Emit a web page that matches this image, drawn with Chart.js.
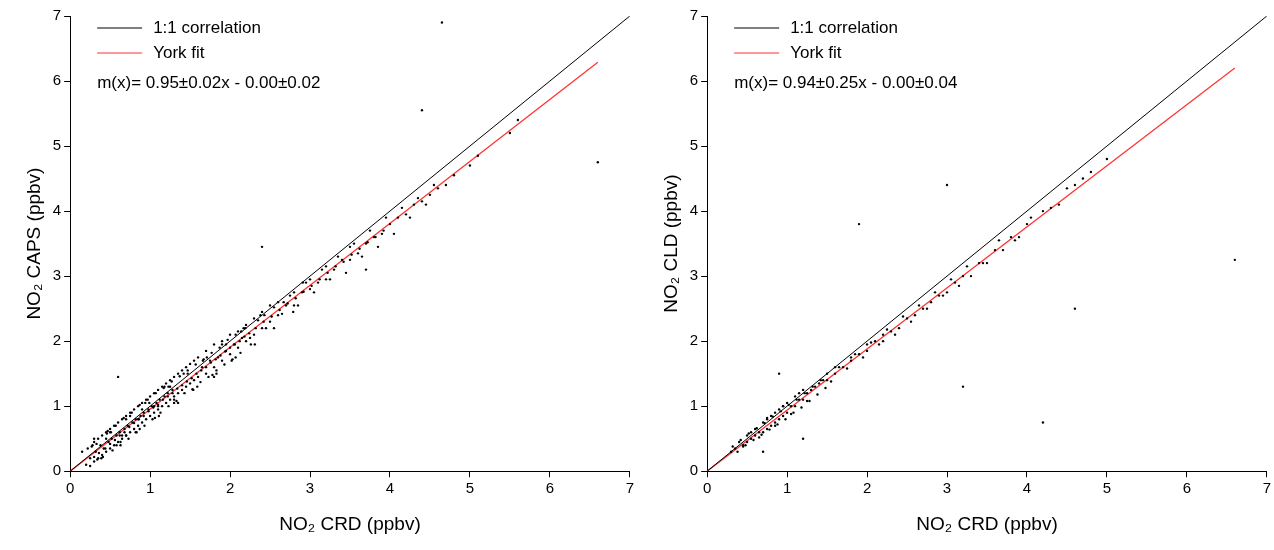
<!DOCTYPE html>
<html><head><meta charset="utf-8">
<script src="https://cdn.jsdelivr.net/npm/chart.js@4/dist/chart.umd.min.js"></script>
<style>body{margin:0;background:#fff}#w{display:flex;width:1274px;height:550px}.c{width:637px;height:550px;position:relative}</style>
</head><body><div id="w"><div class="c"><canvas id="a"></canvas></div><div class="c"><canvas id="b"></canvas></div></div>
<script>
const ticks=[0,1,2,3,4,5,6,7];
const capsX=[0.15,0.2,0.22,0.25,0.28,0.3,0.3,0.32,0.35,0.35,0.38,0.4,0.4,0.42,0.45,0.45,0.48,0.5,0.5,0.52,0.55,0.55,0.58,0.6,0.6,0.62,0.65,0.65,0.68,0.7,0.7,0.72,0.75,0.75,0.78,0.8,0.8,0.82,0.85,0.85,0.88,0.9,0.9,0.92,0.95,0.95,0.98,1.0,1.0,1.02,1.05,1.05,1.08,1.1,1.1,1.12,1.15,1.15,1.18,1.2,1.2,1.22,1.25,1.25,1.28,1.3,1.3,1.35,1.35,1.4,1.4,1.45,1.45,1.5,1.5,1.55,1.55,1.6,1.6,1.65,1.7,1.7,1.75,1.8,1.8,1.85,1.9,1.9,1.95,2.0,2.0,2.05,2.1,2.1,2.15,2.2,2.2,2.3,2.3,2.4,2.4,2.5,2.5,2.6,2.6,2.7,2.8,2.8,2.9,3.0,3.0,3.1,3.2,3.2,3.3,3.4,3.5,3.5,3.6,3.7,3.8,3.9,4.0,4.1,4.2,4.3,4.4,4.5,4.6,4.7,4.8,5.0,5.1,4.65,5.5,5.6,6.6,2.4,3.7,1.8,0.6,4.4,0.3,0.5,0.7,0.9,1.1,1.3,0.45,0.65,0.85,1.05,1.25,
0.25,0.33,0.41,0.47,0.53,0.57,0.63,0.67,0.73,0.77,0.83,0.87,0.93,0.97,1.03,1.07,1.13,1.17,1.23,1.27,1.33,1.37,1.43,1.47,1.53,1.57,1.63,1.67,1.73,1.77,1.83,1.87,1.93,1.97,2.03,2.07,2.13,2.17,2.25,2.35,2.45,2.55,2.65,2.75,2.85,2.95,3.05,3.15,3.25,3.35,3.45,3.55,3.65,3.75,3.85,3.95,4.05,4.15,4.25,4.35,4.45,4.55,
0.3,0.36,0.44,0.5,0.56,0.62,0.68,0.74,0.8,0.86,0.92,0.98,1.04,1.1,1.16,1.22,1.28,1.34,1.4,1.46,1.52,1.58,1.64,1.7,1.76,1.82,1.88,1.94,2.0,2.06,2.12,2.18,2.24,2.32,2.42,2.52,2.62,2.72,2.82,2.92,3.02,3.12,3.22,3.32,3.42,3.52,3.62,3.72,3.82,3.92,
0.27,0.39,0.51,0.63,0.75,0.87,0.99,1.11,1.23,1.35,1.47,1.59,1.71,1.83,1.95,2.07,2.19,2.31,2.43,2.55,2.67,2.79,2.91,0.34,0.46,0.58,0.7,0.82,0.94,1.06,1.18,1.3,1.42,1.54,1.66,1.78,1.9,2.02,2.14,2.26,2.38];
const capsY=[0.3,0.1,0.35,0.2,0.4,0.15,0.45,0.3,0.2,0.5,0.4,0.25,0.55,0.35,0.3,0.6,0.45,0.35,0.65,0.5,0.4,0.7,0.55,0.45,0.75,0.6,0.5,0.8,0.65,0.55,0.85,0.7,0.6,0.9,0.75,0.65,0.95,0.8,0.7,1.0,0.85,0.75,1.05,0.9,0.8,1.1,0.95,0.85,1.15,1.0,0.9,1.2,1.05,0.95,1.25,1.1,1.0,1.3,1.15,1.05,1.35,1.2,1.1,1.4,1.25,1.1,1.45,1.2,1.5,1.25,1.55,1.3,1.6,1.35,1.65,1.4,1.7,1.45,1.75,1.6,1.5,1.85,1.7,1.6,1.95,1.75,1.7,2.0,1.85,1.8,2.1,1.95,1.9,2.15,2.05,2.0,2.25,2.1,2.35,2.2,2.45,2.3,2.55,2.4,2.6,2.55,2.55,2.75,2.75,2.8,2.95,2.9,2.95,3.15,3.1,3.25,3.25,3.45,3.35,3.5,3.6,3.65,3.8,3.9,3.95,4.1,4.15,4.25,4.35,4.4,4.55,4.7,4.85,6.9,5.2,5.4,4.75,3.45,3.1,1.45,1.45,5.55,0.5,0.6,0.55,0.95,1.0,1.15,0.5,0.55,0.8,1.0,1.3,
0.08,0.42,0.22,0.62,0.32,0.7,0.45,0.82,0.5,0.9,0.6,1.02,0.7,1.1,0.8,1.2,0.9,1.28,1.0,1.38,1.08,1.46,1.2,1.55,1.26,1.64,1.37,1.72,1.45,1.82,1.55,1.9,1.64,2.02,1.72,2.1,1.82,2.2,2.05,2.32,2.2,2.52,2.42,2.7,2.55,2.9,2.75,3.1,2.95,3.3,3.05,3.5,3.3,3.7,3.45,3.9,3.65,4.05,3.9,4.2,4.1,4.4,
0.22,0.28,0.35,0.42,0.48,0.55,0.6,0.68,0.74,0.8,0.85,0.92,0.98,1.02,1.1,1.15,1.2,1.27,1.32,1.38,1.43,1.5,1.55,1.6,1.67,1.72,1.78,1.84,1.9,1.95,2.0,2.07,2.12,2.2,2.3,2.38,2.48,2.58,2.66,2.76,2.85,2.95,3.05,3.15,3.22,3.33,3.42,3.52,3.6,3.7,
0.38,0.2,0.6,0.4,0.85,0.65,1.05,0.85,1.3,1.05,1.5,1.3,1.75,1.5,1.95,1.75,2.2,1.95,2.4,2.2,2.6,2.45,2.9,0.18,0.58,0.4,0.8,0.6,1.05,0.82,1.3,1.05,1.5,1.25,1.7,1.48,1.95,1.7,2.15,1.95,2.4];
const cldX=[0.3,0.35,0.4,0.45,0.5,0.5,0.55,0.6,0.6,0.65,0.7,0.7,0.75,0.75,0.8,0.8,0.85,0.85,0.9,0.9,0.95,0.95,1.0,1.0,1.05,1.1,1.1,1.15,1.2,1.2,1.25,1.3,1.35,1.4,1.45,1.5,1.5,1.6,1.6,1.7,1.8,1.8,1.9,2.0,2.0,2.1,2.2,2.2,2.3,2.4,2.5,2.6,2.7,2.8,2.9,3.0,3.1,3.2,3.3,3.4,3.5,3.6,3.7,3.8,3.9,4.0,4.2,4.4,4.6,4.8,5.0,3.0,4.6,6.6,4.2,1.9,3.2,0.7,0.9,1.2,
0.32,0.38,0.42,0.48,0.52,0.58,0.62,0.68,0.72,0.78,0.82,0.88,0.92,0.98,1.02,1.08,1.12,1.18,1.22,1.28,1.32,1.38,1.42,1.48,1.55,1.65,1.75,1.85,1.95,2.05,2.15,2.25,2.35,2.45,2.55,2.65,2.75,2.85,2.95,3.05,3.15,3.25,3.45,3.65,3.85,4.05,4.3,4.5,4.7,0.65,0.75,0.85,0.95,1.05,1.15,1.25,0.55,0.45];
const cldY=[0.3,0.35,0.45,0.4,0.45,0.55,0.5,0.55,0.65,0.6,0.6,0.75,0.65,0.8,0.7,0.85,0.75,0.9,0.8,0.95,0.85,1.0,0.9,1.05,1.0,1.0,1.15,1.1,1.1,1.25,1.2,1.25,1.3,1.35,1.4,1.4,1.5,1.5,1.6,1.6,1.7,1.75,1.8,1.85,1.95,2.0,2.0,2.1,2.15,2.2,2.35,2.4,2.5,2.6,2.7,2.75,2.9,3.0,3.0,3.2,3.2,3.4,3.4,3.6,3.6,3.8,4.0,4.1,4.4,4.6,4.8,4.4,2.5,3.25,0.75,3.8,1.3,0.3,1.5,0.5,
0.38,0.3,0.48,0.4,0.58,0.48,0.66,0.56,0.74,0.64,0.84,0.72,0.92,0.8,1.02,0.9,1.1,0.98,1.2,1.08,1.3,1.18,1.4,1.28,1.38,1.6,1.58,1.8,1.75,1.98,1.95,2.18,2.1,2.38,2.3,2.55,2.5,2.75,2.7,2.95,2.85,3.15,3.2,3.55,3.55,3.9,4.05,4.35,4.5,0.52,0.82,0.7,1.0,0.88,1.2,1.08,0.6,0.38];
const yLabels=['NO₂ CAPS (ppbv)','NO₂ CLD (ppbv)'];
const fitTexts=['m(x)= 0.95±0.02x - 0.00±0.02','m(x)= 0.94±0.25x - 0.00±0.04'];
const fitEnd=[[6.6,6.29],[6.6,6.2]];
const F='Arial, Liberation Sans';
function make(id,xs,ys,i){
 const pts=xs.map((x,k)=>({x,y:ys[k]}));
 const leg={id:'leg',afterDraw(c){const x=c.ctx,l=c.chartArea.left;x.save();x.font='17px '+F;x.fillStyle='#000';x.textBaseline='middle';
  x.strokeStyle='#000';x.lineWidth=1;x.beginPath();x.moveTo(l+27,28);x.lineTo(l+72,28);x.stroke();x.fillText('1:1 correlation',l+83,28);
  x.strokeStyle='#ff3030';x.beginPath();x.moveTo(l+27,53);x.lineTo(l+72,53);x.stroke();x.fillText('York fit',l+83,53);
  x.fillText(fitTexts[i],l+27,83);x.restore();}};
 const tk={color:'#000',font:{size:15,family:F}};
 const gr={display:true,drawOnChartArea:false,drawTicks:true,tickLength:6,color:'#000'};
 new Chart(document.getElementById(id),{type:'scatter',data:{datasets:[
  {data:pts,pointRadius:1.2,pointBackgroundColor:'#000',borderWidth:0,pointBorderWidth:0},
  {type:'line',data:[{x:0,y:0},{x:7,y:7}],borderColor:'#000',borderWidth:1,pointRadius:0},
  {type:'line',data:[{x:0,y:0},{x:fitEnd[i][0],y:fitEnd[i][1]}],borderColor:'#ff3030',borderWidth:1.2,pointRadius:0}]},
 options:{responsive:false,animation:false,layout:{padding:{top:16,right:5,bottom:10,left:19}},plugins:{legend:{display:false},tooltip:{enabled:false}},
  scales:{x:{type:'linear',min:0,max:7,afterBuildTicks:a=>{a.ticks=ticks.map(v=>({value:v}))},grid:gr,border:{color:'#000'},
   ticks:tk,title:{display:true,text:'NO₂ CRD (ppbv)',color:'#000',font:{size:19,family:F},padding:{top:12}}},
  y:{min:0,max:7,afterBuildTicks:a=>{a.ticks=ticks.map(v=>({value:v}))},grid:gr,border:{color:'#000'},
   ticks:tk,title:{display:true,text:yLabels[i],color:'#000',font:{size:19,family:F}}}}},
 plugins:[leg]});
}
const ca=document.getElementById('a'),cb=document.getElementById('b');[ca,cb].forEach(c=>{c.width=637;c.height=550;});
make('a',capsX,capsY,0);make('b',cldX,cldY,1);
</script></body></html>
